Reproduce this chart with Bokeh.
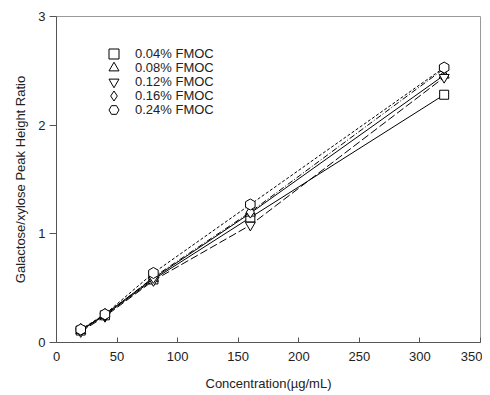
import numpy as np
from bokeh.plotting import figure
from bokeh.models import Legend, LegendItem, FixedTicker, Range1d
from bokeh.embed import file_html
from bokeh.resources import INLINE

conc = [20, 40, 80, 160, 320]
fmoc_004 = [0.11, 0.25, 0.58, 1.15, 2.28]
fmoc_008 = [0.11, 0.26, 0.59, 1.19, 2.46]
fmoc_012 = [0.10, 0.24, 0.57, 1.08, 2.44]
fmoc_016 = [0.12, 0.25, 0.60, 1.20, 2.52]
fmoc_024 = [0.12, 0.26, 0.64, 1.27, 2.53]
labels = ["0.04% FMOC", "0.08% FMOC", "0.12% FMOC", "0.16% FMOC", "0.24% FMOC"]
x_ticks = [0, 50, 100, 150, 200, 250, 300, 350]
y_ticks = [0, 1, 2, 3]

FONT = "Liberation Sans"

p = figure(width=482, height=395, output_backend="svg", toolbar_location=None,
           x_range=Range1d(0, 350), y_range=Range1d(0, 3),
           min_border_left=56, min_border_right=2, min_border_top=16, min_border_bottom=53)
p.grid.visible = False
p.outline_line_color = "#999999"
p.outline_line_width = 1
p.background_fill_color = "white"

for ax in (p.xaxis[0], p.yaxis[0]):
    ax.axis_line_color = "#555555"
    ax.major_tick_line_color = "#555555"
    ax.minor_tick_line_color = None
    ax.major_label_text_font = FONT
    ax.major_label_text_font_size = "13px"
    ax.major_label_text_color = "#222222"
    ax.axis_label_text_font = FONT
    ax.axis_label_text_font_size = "13px"
    ax.axis_label_text_font_style = "normal"
    ax.axis_label_text_color = "#222222"

p.xaxis.ticker = FixedTicker(ticks=x_ticks)
p.yaxis.ticker = FixedTicker(ticks=y_ticks)
p.xaxis.major_tick_in = 5
p.xaxis.major_tick_out = 0
p.xaxis.major_label_standoff = 9
p.yaxis.major_tick_in = 0
p.yaxis.major_tick_out = 7
p.yaxis.major_label_standoff = 4
p.xaxis.axis_label = "Concentration(\u00b5g/mL)"
p.yaxis.axis_label = "Galactose/xylose Peak Height Ratio"
p.xaxis.axis_label_standoff = 12
p.yaxis.axis_label_standoff = 7

series = [fmoc_004, fmoc_008, fmoc_012, fmoc_016, fmoc_024]
markers = ["square", "triangle", "inverted_triangle", "diamond", "hex"]
sizes = [9, 10, 10, 12, 11]
angles = [0, 0, 0, 0, np.pi / 6]
dashes = ["solid", "solid", "8 3", "6 2 1 2", "3 2"]

for i, (vals, m, sz, ang, d, lab) in enumerate(zip(series, markers, sizes, angles, dashes, labels)):
    p.line(conc, vals, line_color="black", line_width=1, line_dash=d)
    r = p.scatter(conc, vals, marker=m, size=sz, angle=ang, fill_color="white",
                  line_color="black", line_width=1)
    # one legend per entry so that entries can be 14px apart with full-size markers
    leg = Legend(items=[LegendItem(label=lab, renderers=[r])],
                 location=(45, 276 - 14 * i), padding=0, margin=0, spacing=0,
                 label_height=25, glyph_height=25, glyph_width=25,
                 label_standoff=9, border_line_alpha=0, background_fill_alpha=0,
                 label_text_font=FONT, label_text_font_size="13px",
                 label_text_color="#222222")
    p.add_layout(leg)

open("out.html", "w").write(file_html(p, INLINE))
